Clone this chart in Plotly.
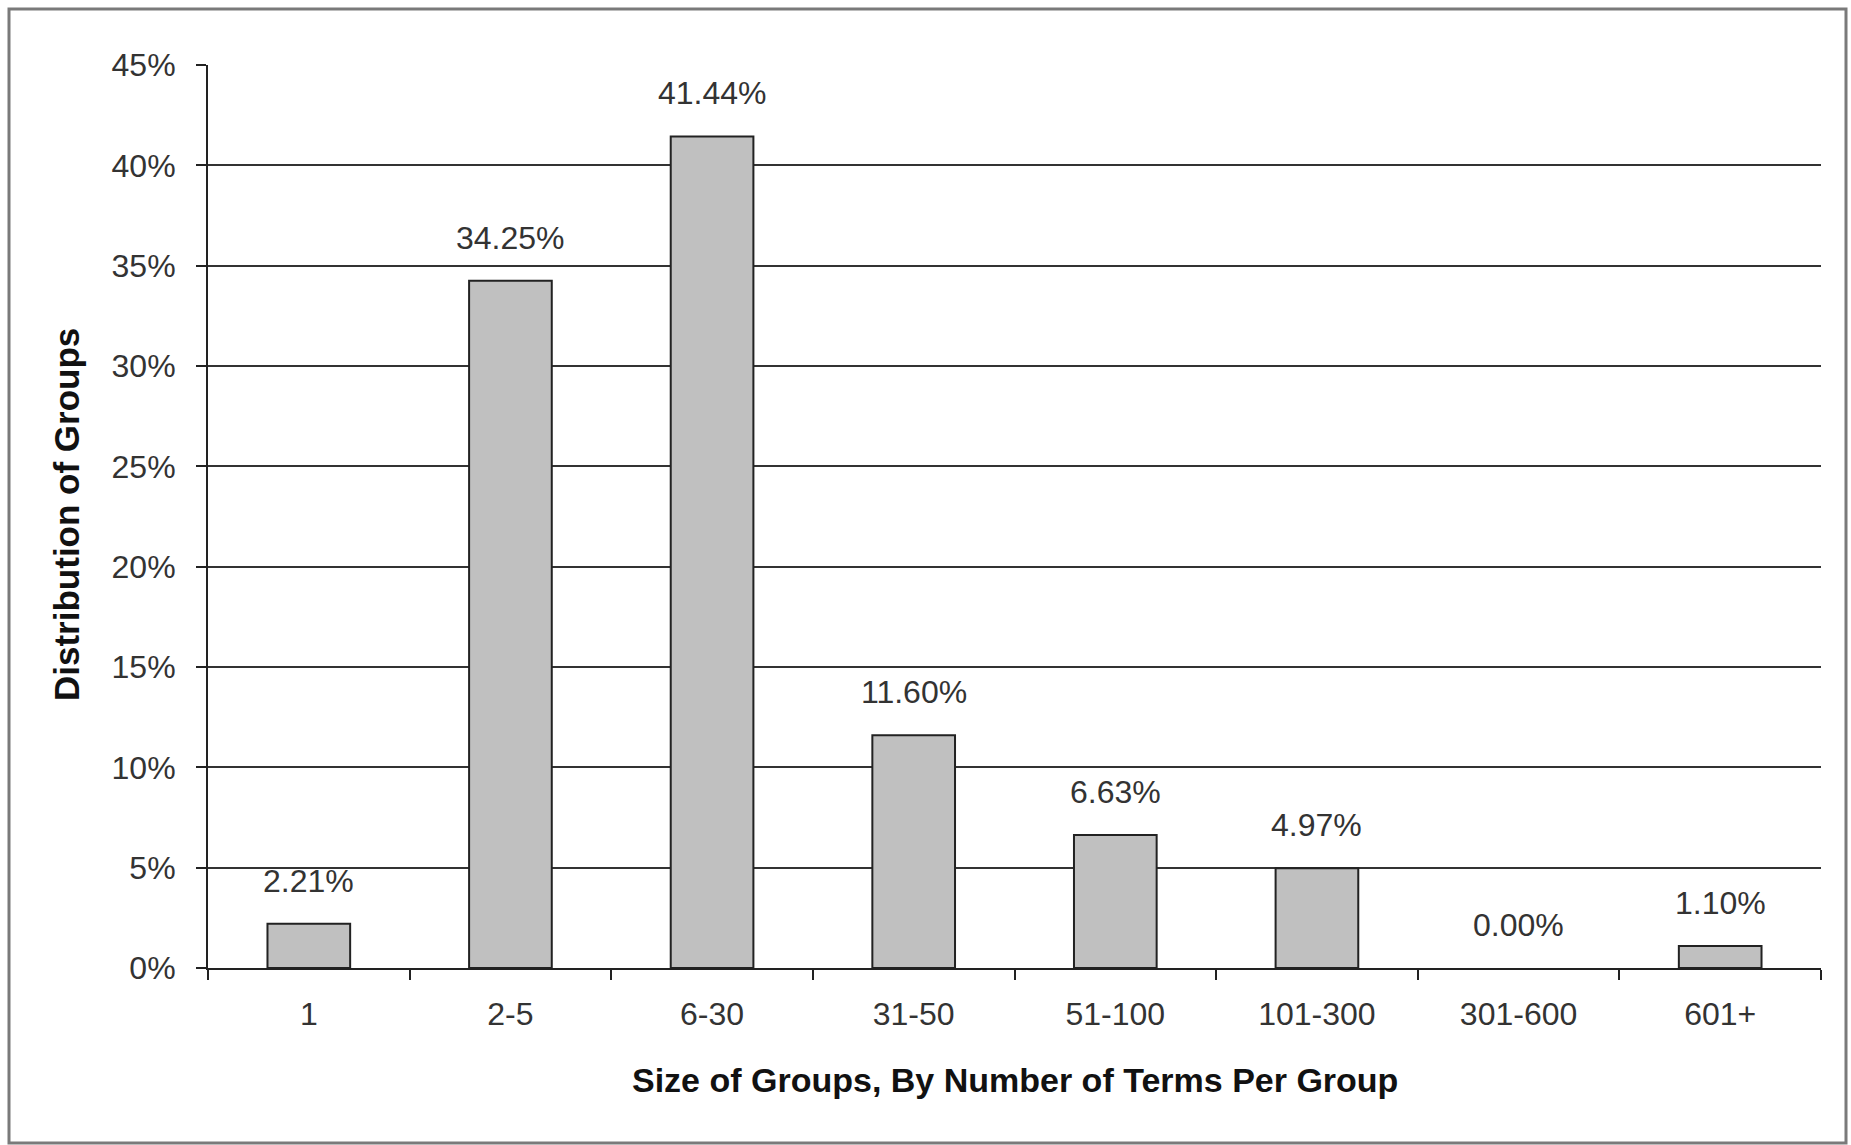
import plotly.graph_objects as go

# ---- data ----
categories = ["1", "2-5", "6-30", "31-50", "51-100", "101-300", "301-600", "601+"]
values = [2.21, 34.25, 41.44, 11.60, 6.63, 4.97, 0.00, 1.10]
y_ticks = [0, 5, 10, 15, 20, 25, 30, 35, 40, 45]
grid_ticks = [5, 10, 15, 20, 25, 30, 35, 40]
x_title = "Size of Groups, By Number of Terms Per Group"
y_title = "Distribution of Groups"

# ---- geometry (pixels) ----
W, H = 1851, 1145
L, R, T, B = 208, 1821, 65, 968   # plot area edges
pw, ph = R - L, B - T


def px_x(px):
    return (px - L) / pw


def px_y(py):
    return (B - py) / ph


FONT = "Liberation Sans, Arial, sans-serif"
TXT = "#333333"
LINE = "#222222"

fig = go.Figure()
fig.add_trace(go.Bar(
    x=categories, y=values,
    marker=dict(color="#c0c0c0",
                line=dict(color=LINE, width=[2 if v > 0 else 0 for v in values])),
    width=0.41, hoverinfo="skip", showlegend=False,
))
# invisible helper trace to carry the gridline axis
fig.add_trace(go.Scatter(
    x=categories, y=values, yaxis="y2", mode="none",
    hoverinfo="skip", showlegend=False,
))

# value labels above bars (x given as category index on the category axis)
for i, v in enumerate(values):
    fig.add_annotation(
        x=i, y=v, xref="x", yref="y", text=f"{v:.2f}%",
        showarrow=False, yanchor="bottom", yshift=23,
        font=dict(family=FONT, size=32, color=TXT),
    )

# axis titles
fig.add_annotation(
    x=0.5, y=px_y(1080), xref="paper", yref="paper", text=f"<b>{x_title}</b>",
    showarrow=False, xanchor="center", yanchor="middle",
    font=dict(family=FONT, size=34, color="#111111"),
)
fig.add_annotation(
    x=px_x(66), y=px_y(515), xref="paper", yref="paper", text=f"<b>{y_title}</b>",
    showarrow=False, xanchor="center", yanchor="middle", textangle=-90,
    font=dict(family=FONT, size=35, color="#111111"),
)

# outer frame
fig.add_shape(
    type="rect", xref="paper", yref="paper",
    x0=px_x(9), x1=px_x(1846), y0=px_y(1143), y1=px_y(9),
    line=dict(color="#7a7a7a", width=3), fillcolor="rgba(0,0,0,0)", layer="below",
)

fig.update_layout(
    width=W, height=H,
    margin=dict(l=L, r=W - R, t=T, b=H - B, pad=0),
    paper_bgcolor="white", plot_bgcolor="white",
    font=dict(family=FONT, size=32, color=TXT),
    bargap=0.59,
    xaxis=dict(
        type="category", categoryorder="array", categoryarray=categories,
        showgrid=False, zeroline=False,
        showline=True, linecolor=LINE, linewidth=2,
        ticks="outside", tickson="boundaries", ticklen=10, tickwidth=2, tickcolor=LINE,
        tickfont=dict(family=FONT, size=32, color=TXT),
        ticklabelstandoff=17,
    ),
    yaxis=dict(
        range=[0, 45], tickmode="array", tickvals=y_ticks,
        ticktext=[f"{t}%" for t in y_ticks],
        showgrid=False, zeroline=False,
        showline=True, linecolor=LINE, linewidth=2,
        ticks="outside", ticklen=10, tickwidth=2, tickcolor=LINE,
        tickfont=dict(family=FONT, size=32, color=TXT),
        ticklabelstandoff=14,
    ),
    yaxis2=dict(
        overlaying="y", range=[0, 45], tickmode="array", tickvals=grid_ticks,
        showgrid=True, gridcolor="#333333", gridwidth=2,
        showticklabels=False, ticks="", showline=False, zeroline=False,
    ),
)

fig.write_html("out.html")
